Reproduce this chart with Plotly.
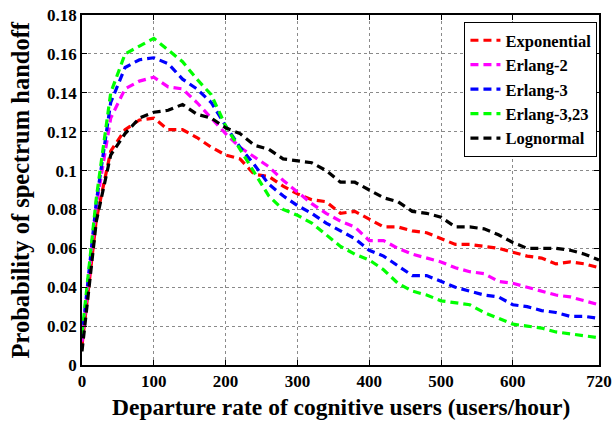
import plotly.graph_objects as go

x_rate = list(range(0, 721, 20))

exponential = [0.010, 0.075, 0.110, 0.121, 0.126, 0.127, 0.121, 0.121, 0.117, 0.112, 0.108,
               0.106, 0.098, 0.097, 0.092, 0.088, 0.085, 0.084, 0.078, 0.079, 0.075, 0.071,
               0.071, 0.069, 0.068, 0.065, 0.062, 0.062, 0.061, 0.060, 0.058, 0.056, 0.055,
               0.052, 0.053, 0.052, 0.050]
erlang2 = [0.012, 0.082, 0.127, 0.142, 0.146, 0.148, 0.143, 0.142, 0.135, 0.127, 0.119,
           0.112, 0.107, 0.102, 0.095, 0.089, 0.083, 0.078, 0.074, 0.071, 0.064, 0.064,
           0.060, 0.057, 0.055, 0.053, 0.050, 0.048, 0.047, 0.043, 0.042, 0.040, 0.038,
           0.036, 0.035, 0.033, 0.031]
erlang3 = [0.014, 0.084, 0.135, 0.153, 0.157, 0.158, 0.155, 0.147, 0.142, 0.135, 0.123,
           0.112, 0.103, 0.093, 0.087, 0.082, 0.078, 0.073, 0.069, 0.065, 0.059, 0.056,
           0.051, 0.046, 0.046, 0.043, 0.040, 0.038, 0.036, 0.035, 0.031, 0.030, 0.028,
           0.027, 0.025, 0.025, 0.024]
erlang323 = [0.016, 0.086, 0.140, 0.160, 0.164, 0.168, 0.162, 0.156, 0.147, 0.139, 0.123,
             0.111, 0.099, 0.087, 0.080, 0.077, 0.073, 0.067, 0.061, 0.057, 0.054, 0.049,
             0.042, 0.038, 0.036, 0.033, 0.032, 0.031, 0.027, 0.024, 0.021, 0.020, 0.019,
             0.017, 0.016, 0.015, 0.014]
lognormal = [0.007, 0.074, 0.108, 0.119, 0.127, 0.130, 0.131, 0.134, 0.129, 0.127, 0.122,
             0.119, 0.113, 0.111, 0.106, 0.105, 0.104, 0.100, 0.094, 0.094, 0.090, 0.086,
             0.084, 0.079, 0.078, 0.076, 0.071, 0.071, 0.070, 0.067, 0.063, 0.060, 0.060,
             0.060, 0.059, 0.057, 0.054]

names = ["Exponential", "Erlang-2", "Erlang-3", "Erlang-3,23", "Lognormal"]
series = [exponential, erlang2, erlang3, erlang323, lognormal]
colors = ["#FF0000", "#FF00FF", "#0000FF", "#00FF00", "#000000"]

x_ticks = [0, 100, 200, 300, 400, 500, 600, 720]
y_ticks = [0, 0.02, 0.04, 0.06, 0.08, 0.1, 0.12, 0.14, 0.16, 0.18]
y_labels = ["0", "0.02", "0.04", "0.06", "0.08", "0.1", "0.12", "0.14", "0.16", "0.18"]

FONT = "Liberation Serif, Times New Roman, serif"

fig = go.Figure()
for name, ys, c in zip(names, series, colors):
    fig.add_trace(go.Scatter(x=x_rate, y=ys, mode="lines", name=name,
                             line=dict(color=c, width=3.2, dash="8px,5px")))

axis_common = dict(showline=True, linecolor="black", linewidth=1.5, mirror="ticks",
                   ticks="inside", ticklen=5, tickcolor="black", automargin=False,
                   ticklabeloverflow="allow",
                   showgrid=True, gridcolor="#8a8a8a", griddash="dot", gridwidth=1,
                   zeroline=False,
                   tickfont=dict(family=FONT, size=17, color="black", weight="bold"))

fig.update_xaxes(range=[0, 720], tickvals=x_ticks, ticktext=[str(v) for v in x_ticks],
                 **axis_common)
fig.update_yaxes(range=[0, 0.18], tickvals=y_ticks, ticktext=y_labels,
                 **axis_common)

fig.add_annotation(text="Departure rate of cognitive users (users/hour)",
                   xref="paper", yref="paper", x=0.5, y=-0.12,
                   xanchor="center", yanchor="middle", showarrow=False,
                   font=dict(family=FONT, size=23.5, color="black", weight="bold"))
fig.add_annotation(text="Probability of spectrum handoff",
                   xref="paper", yref="paper", x=-0.119, y=0.5, textangle=-90,
                   xanchor="center", yanchor="middle", showarrow=False,
                   font=dict(family=FONT, size=24.5, color="black", weight="bold"))

fig.update_layout(
    width=612, height=422,
    margin=dict(l=82, r=13, t=15, b=57),
    plot_bgcolor="white", paper_bgcolor="white",
    legend=dict(x=0.997, y=0.98, xanchor="right", yanchor="top",
                bordercolor="black", borderwidth=1, bgcolor="white",
                itemwidth=30,
                font=dict(family=FONT, size=16.5, color="black", weight="bold")),
)

fig.write_html("out.html")
